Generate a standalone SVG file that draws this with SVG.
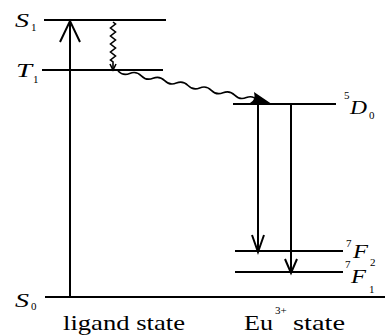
<svg xmlns="http://www.w3.org/2000/svg" width="385" height="336" viewBox="0 0 385 336">
<style>
.lv{stroke:#000;stroke-width:2;fill:none}
.ar{stroke:#000;stroke-width:2;fill:none;stroke-linejoin:miter}
.wv{stroke:#000;stroke-width:1.6;fill:none}
text{font-family:'Liberation Serif','Times New Roman',serif;fill:#000}
.it{font-style:italic;font-size:19px}
.sb{font-size:11px}
.lb{font-size:21px}
</style>
<rect width="385" height="336" fill="#fff"/>
<g id="S1">
<line class="lv" x1="44" y1="20" x2="166" y2="20"/>
<text class="it" x="15" y="27" textLength="14" lengthAdjust="spacingAndGlyphs">S</text><text class="sb" x="31" y="31">1</text>
</g>
<g id="T1">
<line class="lv" x1="42" y1="70" x2="163" y2="70"/>
<text class="it" x="16" y="77" textLength="16" lengthAdjust="spacingAndGlyphs">T</text><text class="sb" x="33" y="83">1</text>
</g>
<g id="S0">
<line class="lv" x1="45" y1="297" x2="385" y2="297"/>
<text class="it" x="15" y="307" textLength="14" lengthAdjust="spacingAndGlyphs">S</text><text class="sb" x="31" y="310">0</text>
</g>
<g id="D0">
<line class="lv" x1="233" y1="104" x2="336" y2="104"/>
<text class="sb" x="344" y="99">5</text><text class="it" x="350" y="114" textLength="17" lengthAdjust="spacingAndGlyphs">D</text><text class="sb" x="369" y="119">0</text>
</g>
<g id="F2">
<line class="lv" x1="235" y1="251" x2="343" y2="251"/>
<text class="sb" x="346" y="247">7</text><text class="it" x="353" y="258" textLength="15" lengthAdjust="spacingAndGlyphs">F</text><text class="sb" x="370" y="266">2</text>
</g>
<g id="F1">
<line class="lv" x1="235" y1="272" x2="343" y2="272"/>
<text class="sb" x="345" y="268">7</text><text class="it" x="351" y="283" textLength="15" lengthAdjust="spacingAndGlyphs">F</text><text class="sb" x="369" y="293">1</text>
</g>
<g id="labels">
<text class="lb" x="63" y="330" textLength="122" lengthAdjust="spacingAndGlyphs">ligand state</text>
<text class="lb" x="244" y="330" textLength="29" lengthAdjust="spacingAndGlyphs">Eu</text><text class="sb" x="275" y="314">3+</text><text class="lb" x="293" y="330" textLength="52" lengthAdjust="spacingAndGlyphs">state</text>
</g>
<g id="connectors">
<line class="ar" x1="70" y1="297" x2="70" y2="22"/>
<path class="ar" d="M60,42 L70,21 L80,42"/>
<polyline class="wv" points="113,22 115.5,24 110.5,28 115.5,32 110.5,36 115.5,40 110.5,44 115.5,48 110.5,52 115.5,56 110.5,60 113,62 113,69"/>
<path class="wv" d="M110,64 L113,70 L116,64"/>
<path class="wv" stroke-width="2" d="M118,71 Q123.02,76.13 129.67,73.42 T141.33,75.83 T153,78.25 T164.67,80.67 T176.33,83.08 T188,85.5 T199.67,87.92 T211.33,90.33 T223,92.75 T234.67,95.17 T246.33,97.58 T258,101"/>
<path d="M254,92 L271,103.5 L250,103 Q256,100 254,92 Z" fill="#000"/>
<line class="ar" x1="258" y1="104" x2="258" y2="252"/>
<path class="ar" d="M252,235 L258,252 L264,235"/>
<line class="ar" x1="291" y1="104" x2="291" y2="272"/>
<path class="ar" d="M285,259 L291,273 L297,259"/>
</g>
</svg>
